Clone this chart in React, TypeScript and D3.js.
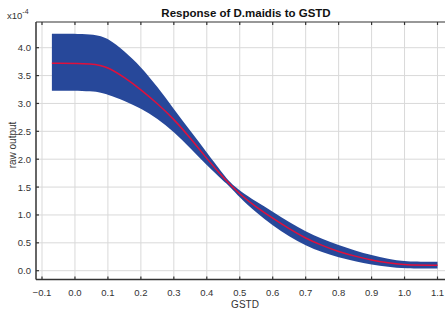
import React, { useEffect, useRef } from 'react';
import * as d3 from 'd3';

// GSTD values and model response (x10^-4)
const gstd = [-0.07, 0.06, 0.1, 0.15, 0.2, 0.25, 0.3, 0.35, 0.4, 0.45, 0.47, 0.5, 0.55, 0.6, 0.65, 0.7, 0.75, 0.8, 0.85, 0.9, 0.95, 1.0, 1.1];
const meanOut = [3.72, 3.72, 3.65, 3.47, 3.25, 3.0, 2.72, 2.38, 2.01, 1.67, 1.55, 1.37, 1.14, 0.94, 0.75, 0.58, 0.45, 0.34, 0.26, 0.19, 0.14, 0.1, 0.1];
const upperOut = [4.25, 4.25, 4.17, 3.94, 3.66, 3.3, 2.9, 2.51, 2.12, 1.73, 1.59, 1.43, 1.24, 1.06, 0.87, 0.7, 0.57, 0.46, 0.36, 0.28, 0.21, 0.16, 0.16];
const lowerOut = [3.23, 3.23, 3.16, 3.05, 2.91, 2.73, 2.49, 2.2, 1.89, 1.61, 1.51, 1.31, 1.04, 0.81, 0.61, 0.45, 0.33, 0.24, 0.17, 0.11, 0.07, 0.04, 0.04];

const xTicks = [-0.1, 0, 0.1, 0.2, 0.3, 0.4, 0.5, 0.6, 0.7, 0.8, 0.9, 1.0, 1.1];
const yTicks = [0, 0.5, 1.0, 1.5, 2.0, 2.5, 3.0, 3.5, 4.0];

const App = () => {
  const svgRef = useRef<SVGSVGElement>(null);

  useEffect(() => {
    if (!svgRef.current) return;
    const svg = d3.select(svgRef.current);
    svg.selectAll('*').remove();

    const width = 445;
    const height = 313;
    const plot = { left: 36, right: 445, top: 22, bottom: 279.5 };
    const font = 'Liberation Sans, Arial, sans-serif';

    const x = d3.scaleLinear().domain([-0.1, 1.1]).range([42, 437.5]);
    const y = d3.scaleLinear().domain([0, 4]).range([270.7, 47.7]);

    svg.attr('width', width).attr('height', height);
    svg.append('rect').attr('width', width).attr('height', height).attr('fill', '#fff');

    // grid
    xTicks.forEach(t => {
      svg.append('line')
        .attr('x1', x(t)).attr('x2', x(t))
        .attr('y1', plot.top).attr('y2', plot.bottom)
        .attr('stroke', '#d9d9d9').attr('stroke-width', 1);
    });
    yTicks.forEach(t => {
      svg.append('line')
        .attr('x1', plot.left).attr('x2', plot.right)
        .attr('y1', y(t)).attr('y2', y(t))
        .attr('stroke', '#d9d9d9').attr('stroke-width', 1);
    });

    const data = gstd.map((g, i) => ({ g, m: meanOut[i], hi: upperOut[i], lo: lowerOut[i] }));

    const area = d3.area<typeof data[0]>()
      .x(d => x(d.g))
      .y0(d => y(d.lo))
      .y1(d => y(d.hi))
      .curve(d3.curveBasis);

    svg.append('path').datum(data)
      .attr('d', area)
      .attr('fill', '#27489a');

    const line = d3.line<typeof data[0]>()
      .x(d => x(d.g))
      .y(d => y(d.m))
      .curve(d3.curveBasis);

    svg.append('path').datum(data)
      .attr('d', line)
      .attr('fill', 'none')
      .attr('stroke', '#e0103c')
      .attr('stroke-width', 1.5);

    // axes frame
    const axisColor = '#333';
    svg.append('line').attr('x1', plot.left).attr('x2', plot.right).attr('y1', plot.top).attr('y2', plot.top)
      .attr('stroke', axisColor).attr('stroke-width', 1.2);
    svg.append('line').attr('x1', plot.left).attr('x2', plot.right).attr('y1', plot.bottom).attr('y2', plot.bottom)
      .attr('stroke', axisColor).attr('stroke-width', 1.5);
    svg.append('line').attr('x1', plot.left).attr('x2', plot.left).attr('y1', plot.top).attr('y2', plot.bottom)
      .attr('stroke', axisColor).attr('stroke-width', 1.5);

    xTicks.forEach(t => {
      svg.append('line').attr('x1', x(t)).attr('x2', x(t)).attr('y1', plot.bottom).attr('y2', plot.bottom - 3)
        .attr('stroke', axisColor).attr('stroke-width', 1.2);
      svg.append('line').attr('x1', x(t)).attr('x2', x(t)).attr('y1', plot.top).attr('y2', plot.top + 3)
        .attr('stroke', axisColor).attr('stroke-width', 1.2);
      svg.append('text')
        .attr('x', x(t)).attr('y', 296)
        .attr('text-anchor', 'middle')
        .attr('font-family', font).attr('font-size', '9.5px').attr('fill', '#333')
        .text(d3.format('.1f')(t));
    });

    yTicks.forEach(t => {
      svg.append('line').attr('x1', plot.left).attr('x2', plot.left + 3).attr('y1', y(t)).attr('y2', y(t))
        .attr('stroke', axisColor).attr('stroke-width', 1.2);
      svg.append('text')
        .attr('x', 31).attr('y', y(t) + 3.5)
        .attr('text-anchor', 'end')
        .attr('font-family', font).attr('font-size', '9.5px').attr('fill', '#333')
        .text(d3.format('.1f')(t));
    });

    // exponent label
    const exp = svg.append('text')
      .attr('x', 7).attr('y', 18.5)
      .attr('font-family', font).attr('font-size', '9.5px').attr('fill', '#333');
    exp.append('tspan').text('x10');
    exp.append('tspan').attr('dy', -5).attr('font-size', '7px').text('-4');

    // titles
    svg.append('text')
      .attr('x', 246).attr('y', 17)
      .attr('text-anchor', 'middle')
      .attr('font-family', font).attr('font-size', '11.5px').attr('font-weight', 'bold').attr('fill', '#111')
      .text('Response of D.maidis to GSTD');

    svg.append('text')
      .attr('x', 245).attr('y', 307.5)
      .attr('text-anchor', 'middle')
      .attr('font-family', font).attr('font-size', '10px').attr('fill', '#333')
      .text('GSTD');

    svg.append('text')
      .attr('transform', 'translate(16,145) rotate(-90)')
      .attr('text-anchor', 'middle')
      .attr('font-family', font).attr('font-size', '10px').attr('fill', '#333')
      .text('raw output');
  }, []);

  return (
    <div style={{ position: 'absolute', left: 0, top: 0 }}>
      <svg ref={svgRef} style={{ display: 'block' }}></svg>
    </div>
  );
};

export default App;
